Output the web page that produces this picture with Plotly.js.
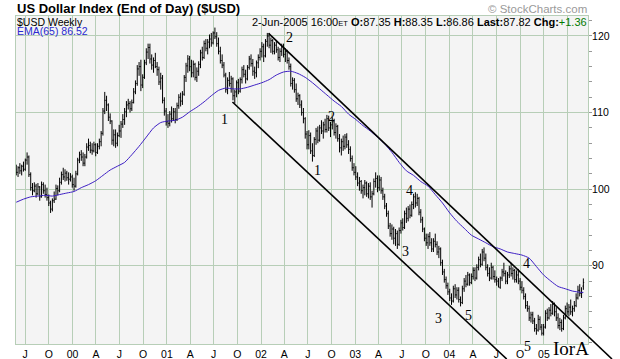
<!DOCTYPE html>
<html><head><meta charset="utf-8">
<script src="https://cdn.plot.ly/plotly-3.0.1.min.js"></script>
<style>html,body{margin:0;padding:0;background:#fff}#chart{width:620px;height:359px}</style>
</head><body><div id="chart"></div>
<script>
// ---- DATA (weekly bars, first bar week ending 1999-05-28) ----
const firstWeekUTC = Date.UTC(1999, 4, 28);
const openP = [
102.6,102.2,102.8,102.4,103.0,102.6,103.8,104.2,101.9,100.2,
99.8,100.4,99.4,100.3,99.0,100.6,99.8,99.3,98.9,98.2,
97.4,98.5,98.7,100.1,99.8,100.9,101.9,101.6,102.1,101.5,
101.3,101.6,100.6,100.4,102.0,103.8,104.5,104.2,103.4,104.2,
105.5,105.7,105.1,105.0,105.8,104.8,105.6,106.2,107.3,110.2,
111.6,111.0,109.4,108.9,106.4,107.1,106.0,107.0,107.6,108.5,
109.1,110.1,111.0,111.2,110.5,111.3,112.7,113.8,115.7,116.0,
113.6,114.6,116.5,117.9,118.5,117.0,116.2,116.8,116.0,115.6,
114.0,114.5,111.6,110.2,108.8,108.6,109.8,109.2,110.1,109.1,
110.9,112.0,111.5,112.4,114.6,116.1,117.0,116.0,115.2,116.3,
114.6,115.4,116.3,117.8,117.2,119.0,118.4,119.2,119.6,119.1,
120.4,119.9,119.0,118.0,116.8,116.2,114.9,113.0,114.2,113.8,
114.4,112.2,112.7,113.9,112.8,114.3,115.6,115.0,114.4,115.9,
117.0,116.4,115.4,115.2,116.5,117.2,118.0,118.6,117.4,119.3,
120.0,118.8,119.4,118.0,118.8,118.2,117.2,118.0,118.6,117.6,
118.0,116.8,116.0,113.8,114.2,113.0,111.8,112.2,111.0,110.0,
109.2,107.2,105.8,107.0,105.0,104.4,106.5,107.6,106.4,108.0,
107.6,108.4,107.8,109.2,108.0,108.4,108.8,107.4,108.2,106.6,
105.4,106.2,105.6,106.8,105.8,105.2,104.0,102.8,102.2,101.6,
100.8,101.0,99.8,100.2,100.8,99.4,100.4,99.0,99.4,101.0,
101.4,100.2,101.2,99.8,99.0,97.8,96.8,95.2,94.2,94.8,
93.6,94.2,92.8,94.6,95.6,95.0,96.8,96.2,97.4,96.6,
98.0,99.0,98.2,98.8,97.0,96.0,94.8,93.6,93.0,93.8,
93.0,92.2,93.2,92.8,91.8,92.2,90.4,89.2,88.2,87.4,
86.6,85.8,85.4,87.0,86.2,86.8,85.6,85.2,87.0,88.0,
87.6,88.8,87.8,88.6,89.4,88.4,89.8,90.8,90.2,91.8,
91.0,89.8,89.0,88.4,89.8,88.6,88.2,88.0,87.2,88.4,
89.2,89.0,88.0,88.8,89.6,89.0,89.4,88.2,88.8,88.0,
87.2,86.8,86.0,84.8,84.4,83.2,83.6,82.8,81.8,81.6,
83.0,82.0,81.2,82.0,83.8,83.2,84.2,83.8,85.0,84.0,
83.2,82.2,82.6,81.8,83.2,84.4,84.0,84.6,84.0,84.4,
84.8,85.8,86.8,86.4,87.35];
const highP = [
103.2,103.0,103.4,103.2,103.6,104.0,104.8,104.4,102.2,100.8,
100.9,100.7,100.8,100.4,101.0,100.9,100.6,100.2,99.3,98.5,
98.8,99.7,100.6,100.5,101.5,102.3,102.8,102.6,102.4,102.2,
102.1,101.9,101.5,102.4,104.1,104.9,105.1,104.8,104.6,106.0,
106.6,106.2,106.0,106.2,106.0,106.0,106.6,107.6,110.6,112.7,
112.2,111.2,109.9,109.0,107.8,107.8,107.4,108.4,108.9,109.8,
110.6,111.5,111.8,111.5,111.7,113.2,114.2,116.2,116.6,116.9,
115.0,116.9,118.4,119.0,119.0,117.6,117.2,117.8,116.6,116.0,
115.2,114.9,112.0,110.6,109.8,110.2,110.8,110.6,110.6,111.3,
112.4,112.6,112.8,114.9,116.5,117.5,117.4,116.9,116.8,116.5,
115.9,116.7,118.2,118.6,119.4,119.6,119.6,120.2,120.4,120.6,
121.1,120.5,119.8,118.6,117.6,116.6,115.2,114.6,115.3,114.8,
114.6,113.0,114.2,114.4,114.6,116.0,116.2,115.6,116.2,117.4,
117.6,117.0,116.0,116.8,117.6,118.4,119.2,119.0,119.6,120.4,
120.4,119.8,119.6,119.2,119.4,118.6,118.4,119.0,119.0,118.4,
118.2,117.2,116.4,114.6,114.5,113.8,112.6,112.4,111.6,110.6,
109.4,107.6,107.7,107.4,106.0,106.8,108.0,108.2,108.4,109.0,
108.8,109.2,109.7,109.6,108.8,109.4,109.2,108.6,108.4,107.2,
106.6,107.0,107.2,107.3,106.4,105.6,104.4,103.4,103.0,102.2,
101.6,101.2,100.6,101.2,101.0,100.8,100.9,99.8,101.4,102.2,
101.8,101.8,101.6,100.2,99.4,98.2,97.2,95.6,95.4,95.1,
94.8,94.6,95.0,96.0,96.2,97.2,97.6,97.8,98.0,98.4,
99.4,99.6,99.4,99.0,97.4,96.4,95.0,94.2,94.2,94.4,
93.6,93.6,94.2,93.2,92.6,92.4,90.8,89.6,88.6,87.8,
87.0,86.4,87.4,87.6,87.2,87.2,86.0,87.4,88.4,88.8,
89.2,89.0,89.0,89.8,89.8,90.2,91.2,91.6,92.2,92.4,
91.6,90.2,89.8,90.4,90.0,89.4,88.6,88.4,88.6,89.6,
90.4,89.4,89.2,90.0,90.4,89.8,89.6,89.4,89.6,88.4,
88.0,87.2,86.4,85.4,84.8,84.0,84.0,83.2,82.4,83.6,
83.4,82.4,82.4,84.2,84.4,84.6,85.0,85.4,85.2,84.6,
83.8,83.2,83.0,83.6,84.8,85.2,85.0,85.6,84.8,85.4,
86.4,87.4,87.6,87.2,88.35];
const lowP = [
101.8,101.6,102.0,101.8,102.3,102.4,103.2,101.6,99.8,99.2,
99.6,98.9,99.2,98.5,98.9,99.4,98.9,98.5,97.8,96.9,
97.1,98.2,98.6,99.2,99.6,100.6,101.2,101.0,101.1,100.6,
101.0,100.2,99.8,100.2,101.8,103.4,103.7,103.0,103.0,104.0,
105.0,104.7,104.5,104.8,104.3,104.6,105.2,105.6,107.0,109.8,
110.2,108.9,108.5,105.8,105.6,105.4,105.6,106.8,106.7,108.0,
108.4,109.4,110.4,110.0,110.2,111.2,112.4,113.5,114.8,112.8,
113.2,114.4,116.2,117.0,116.4,115.6,115.2,115.8,114.8,113.6,
113.0,111.2,109.6,108.3,108.0,108.2,108.7,108.9,108.6,108.9,
110.5,110.8,111.0,112.2,114.0,115.2,115.4,114.6,114.6,114.2,
114.0,114.8,115.8,116.8,117.0,118.0,117.6,118.4,118.6,118.9,
119.6,118.6,117.6,116.4,115.8,114.6,112.6,112.4,113.4,112.6,
111.6,111.2,112.0,112.4,112.6,113.8,114.6,113.8,114.2,115.6,
116.0,114.8,114.4,114.6,115.8,116.8,117.2,116.6,117.2,118.6,
118.4,117.8,117.6,117.6,117.8,116.8,116.6,117.4,117.2,116.6,
116.4,115.6,113.4,113.0,112.6,111.4,111.0,110.6,109.6,108.6,
106.6,105.2,105.2,104.6,103.6,104.2,105.8,106.0,106.2,107.2,
106.6,107.4,107.4,107.6,106.8,107.8,107.0,106.6,106.2,104.8,
104.4,105.0,105.2,105.4,104.6,103.6,102.4,101.8,101.2,100.4,
99.8,99.4,98.8,99.2,99.0,98.8,98.6,97.6,99.2,100.2,
99.6,99.8,99.4,98.6,97.4,96.4,94.8,93.8,93.4,92.8,
92.6,92.2,92.6,94.2,94.6,94.8,95.6,95.8,96.2,96.4,
97.4,97.6,97.8,96.6,95.6,94.4,93.2,92.6,92.2,92.6,
91.8,91.8,92.4,91.4,91.0,90.0,88.8,87.8,87.0,86.2,
85.4,84.9,85.2,85.8,85.6,85.2,84.7,85.0,86.6,87.2,
87.4,87.4,87.6,88.2,88.0,88.2,89.4,89.8,90.0,90.6,
89.4,88.6,88.0,88.2,88.2,87.8,87.4,87.2,87.0,88.0,
88.6,87.6,87.6,88.4,88.6,88.2,87.8,87.8,87.6,86.8,
86.4,85.6,84.4,84.0,82.8,82.6,82.4,81.4,81.0,81.4,
81.6,80.9,80.9,81.8,82.8,83.0,83.4,83.6,83.4,82.8,
81.8,81.6,81.4,81.6,83.0,83.6,83.4,83.6,83.4,84.0,
84.6,85.6,86.0,85.8,86.86];
const closeP = [
102.2,102.8,102.4,103.0,102.6,103.8,104.2,101.9,100.2,99.8,
100.4,99.4,100.3,99.0,100.6,99.8,99.3,98.9,98.2,97.4,
98.5,98.7,100.1,99.8,100.9,101.9,101.6,102.1,101.5,101.3,
101.6,100.6,100.4,102.0,103.8,104.5,104.2,103.4,104.2,105.5,
105.7,105.1,105.0,105.8,104.8,105.6,106.2,107.3,110.2,111.6,
111.0,109.4,108.9,106.4,107.1,106.0,107.0,107.6,108.5,109.1,
110.1,111.0,111.2,110.5,111.3,112.7,113.8,115.7,116.0,113.6,
114.6,116.5,117.9,118.5,117.0,116.2,116.8,116.0,115.6,114.0,
114.5,111.6,110.2,108.8,108.6,109.8,109.2,110.1,109.1,110.9,
112.0,111.5,112.4,114.6,116.1,117.0,116.0,115.2,116.3,114.6,
115.4,116.3,117.8,117.2,119.0,118.4,119.2,119.6,119.1,120.4,
119.9,119.0,118.0,116.8,116.2,114.9,113.0,114.2,113.8,114.4,
112.2,112.7,113.9,112.8,114.3,115.6,115.0,114.4,115.9,117.0,
116.4,115.4,115.2,116.5,117.2,118.0,118.6,117.4,119.3,120.0,
118.8,119.4,118.0,118.8,118.2,117.2,118.0,118.6,117.6,118.0,
116.8,116.0,113.8,114.2,113.0,111.8,112.2,111.0,110.0,109.2,
107.2,105.8,107.0,105.0,104.4,106.5,107.6,106.4,108.0,107.6,
108.4,107.8,109.2,108.0,108.4,108.8,107.4,108.2,106.6,105.4,
106.2,105.6,106.8,105.8,105.2,104.0,102.8,102.2,101.6,100.8,
101.0,99.8,100.2,100.8,99.4,100.4,99.0,99.4,101.0,101.4,
100.2,101.2,99.8,99.0,97.8,96.8,95.2,94.2,94.8,93.6,
94.2,92.8,94.6,95.6,95.0,96.8,96.2,97.4,96.6,98.0,
99.0,98.2,98.8,97.0,96.0,94.8,93.6,93.0,93.8,93.0,
92.2,93.2,92.8,91.8,92.2,90.4,89.2,88.2,87.4,86.6,
85.8,85.4,87.0,86.2,86.8,85.6,85.2,87.0,88.0,87.6,
88.8,87.8,88.6,89.4,88.4,89.8,90.8,90.2,91.8,91.0,
89.8,89.0,88.4,89.8,88.6,88.2,88.0,87.2,88.4,89.2,
89.0,88.0,88.8,89.6,89.0,89.4,88.2,88.8,88.0,87.2,
86.8,86.0,84.8,84.4,83.2,83.6,82.8,81.8,81.6,83.0,
82.0,81.2,82.0,83.8,83.2,84.2,83.8,85.0,84.0,83.2,
82.2,82.6,81.8,83.2,84.4,84.0,84.6,84.0,84.4,84.8,
85.8,86.8,86.4,86.46,87.82];

const emaWeeks = [0,4,8,12,16,20,24,28,32,36,40,44,48,52,56,60,64,68,72,76,
80,84,88,92,96,100,104,108,112,116,120,124,128,132,136,140,144,148,152,156,
160,164,168,172,176,180,184,188,192,196,200,204,208,212,216,220,224,228,232,236,
240,244,248,252,256,260,264,268,272,276,280,284,288,292,296,300,304,308,312,314];
const emaVals = [98.3,98.7,99.0,99.1,99.2,99.1,99.3,99.5,99.7,100.2,100.6,101.1,101.8,102.5,103.0,103.5,104.5,105.6,106.8,108.0,
108.7,108.9,109.0,109.4,110.1,110.7,111.4,112.2,112.9,113.2,113.1,113.1,113.3,113.6,113.9,114.3,114.9,115.3,115.4,115.1,
114.6,113.9,113.1,112.3,111.5,110.8,109.8,109.1,108.3,107.6,106.8,105.9,104.8,103.5,102.4,101.8,101.0,100.4,99.3,98.2,
96.9,95.8,94.9,94.0,93.5,93.0,92.5,92.2,91.8,91.6,91.4,91.0,89.9,88.8,88.0,87.3,87.0,86.7,86.55,86.52];

// Axis ticks
const tickDates = ['1999-07-01','1999-10-01','2000-01-01','2000-04-01','2000-07-01','2000-10-01',
'2001-01-01','2001-04-01','2001-07-01','2001-10-01','2002-01-01','2002-04-01','2002-07-01','2002-10-01',
'2003-01-01','2003-04-01','2003-07-01','2003-10-01','2004-01-01','2004-04-01','2004-07-01','2004-10-01',
'2005-01-01','2005-04-01'];
const tickLabels = ['J','O','00','A','J','O','01','A','J','O','02','A','J','O','03','A','J','O','04','A','J','O','05',''];
const yTicks = [90,100,110,120];

// Trend channel anchors (date, value)
const upperChannelDates = ['2002-01-30','2005-09-22'];
const upperChannelVals = [120.35,77.83];
const lowerChannelDates = ['2001-09-12','2004-08-10'];
const lowerChannelVals = [111.38,77.83];

// Wave labels
const waveLabels = ['2','1','2','1','4','3','4','3','5','5','IorA'];

// ---- LAYOUT ----
const X_RANGE = ['1999-05-27','2005-06-21'];
const Y_RANGE = [79.79,122.61];
const PLOT = {l:16, t:16, w:572, h:328};
const pxX = x => (x - PLOT.l) / PLOT.w;
const pxY = y => (PLOT.t + PLOT.h - y) / PLOT.h;
const dToPaper = d => { const a = Date.parse(X_RANGE[0]), b = Date.parse(X_RANGE[1]); return (Date.parse(d) - a) / (b - a); };
const vToPaper = v => (v - Y_RANGE[0]) / (Y_RANGE[1] - Y_RANGE[0]);

const weekDates = closeP.map((_, i) => new Date(firstWeekUTC + i * 7 * 86400000).toISOString().slice(0, 10));
const emaDates = emaWeeks.map(i => weekDates[i]);
const n = closeP.length - 1;

const wavePos = [[289,38],[224,120],[332,116],[317,170],[409,191],[405,251],[526,263],[438,318],[468,315],[527,346],[571,348]];
const waveSizes = [14,14,14,14,14,14,14,14,14,14,19];

const SANS = 'Liberation Sans, Arial, sans-serif';
const annotations = [
  {text:'<b>US Dollar Index (End of Day) ($USD)</b>', x:pxX(16), y:pxY(8.5), xanchor:'left', yanchor:'middle',
   font:{family:SANS, size:13, color:'#000'}},
  {text:'© StockCharts.com', x:pxX(588), y:pxY(9), xanchor:'right', yanchor:'middle', font:{family:SANS, size:11.5, color:'#9a9a9a'}},
  {text:'$USD Weekly', x:pxX(16), y:pxY(22), xanchor:'left', yanchor:'middle', font:{family:SANS, size:10.5, color:'#000'}},
  {text:'EMA(65) ' + emaVals[emaVals.length-1].toFixed(2), x:pxX(16), y:pxY(31), xanchor:'left', yanchor:'middle', font:{family:SANS, size:10.5, color:'#2a2ad0'}},
  {text:'2-Jun-2005 16:00<span style="font-size:7.5px">ET</span> <b>O:</b>' + openP[n].toFixed(2) +
     ' <b>H:</b>' + highP[n].toFixed(2) + ' <b>L:</b>' + lowP[n].toFixed(2) + ' <b>Last:</b>' + closeP[n].toFixed(2) +
     ' <b>Chg:</b><span style="color:#007a00">+' + (closeP[n] - closeP[n-1]).toFixed(2) + '</span>',
   x:pxX(588), y:pxY(22), xanchor:'right', yanchor:'middle', font:{family:SANS, size:11, color:'#000'}}
];
waveLabels.forEach((t, k) => annotations.push({text:t, x:pxX(wavePos[k][0]), y:pxY(wavePos[k][1]), xanchor:'center', yanchor:'middle',
  font:{family:'Liberation Serif, Times New Roman, serif', size:waveSizes[k], color:'#000'}}));
annotations.forEach(a => { a.xref = 'paper'; a.yref = 'paper'; a.showarrow = false; a.borderpad = 0; });

const shapes = [
  [upperChannelDates, upperChannelVals],
  [lowerChannelDates, lowerChannelVals]
].map(([d, v]) => ({type:'line', xref:'paper', yref:'paper',
  x0:dToPaper(d[0]), y0:vToPaper(v[0]), x1:dToPaper(d[1]), y1:vToPaper(v[1]),
  line:{color:'#000', width:1.6}}));

const GRID = '#b7ceb7';
const traces = [
  {type:'ohlc', x:weekDates, open:openP, high:highP, low:lowP, close:closeP,
   increasing:{line:{color:'#000', width:1}}, decreasing:{line:{color:'#000', width:1}},
   tickwidth:0.45, hoverinfo:'skip', showlegend:false},
  {type:'scatter', mode:'lines', x:emaDates, y:emaVals, line:{color:'#3d1fc4', width:1, shape:'spline', smoothing:0.6},
   hoverinfo:'skip', showlegend:false}
];

const layout = {
  width:620, height:359,
  margin:{l:PLOT.l, r:620-PLOT.l-PLOT.w, t:PLOT.t, b:359-PLOT.t-PLOT.h, pad:0},
  paper_bgcolor:'#ffffff', plot_bgcolor:'#f4f4f4',
  showlegend:false,
  xaxis:{type:'date', range:X_RANGE, rangeslider:{visible:false}, tickmode:'array', tickvals:tickDates, ticktext:tickLabels,
    ticks:'', showgrid:true, gridcolor:GRID, gridwidth:1, showline:true, mirror:true, linecolor:GRID, linewidth:1,
    tickfont:{family:SANS, size:10.5, color:'#000'}, zeroline:false, fixedrange:true},
  yaxis:{range:Y_RANGE, side:'right', tickmode:'array', tickvals:yTicks, ticks:'outside', ticklen:3, tickcolor:'#999',
    ticklabelstandoff:-2,
    showgrid:true, gridcolor:GRID, gridwidth:1, showline:true, mirror:true, linecolor:GRID, linewidth:1, zeroline:false,
    minor:{dtick:2, tick0:80, ticks:'outside', ticklen:3, tickcolor:'#999', showgrid:false},
    tickfont:{family:SANS, size:10.5, color:'#000'}, fixedrange:true},
  annotations:annotations,
  shapes:shapes
};

Plotly.newPlot('chart', traces, layout, {staticPlot:true, displayModeBar:false});
</script>
</body></html>
